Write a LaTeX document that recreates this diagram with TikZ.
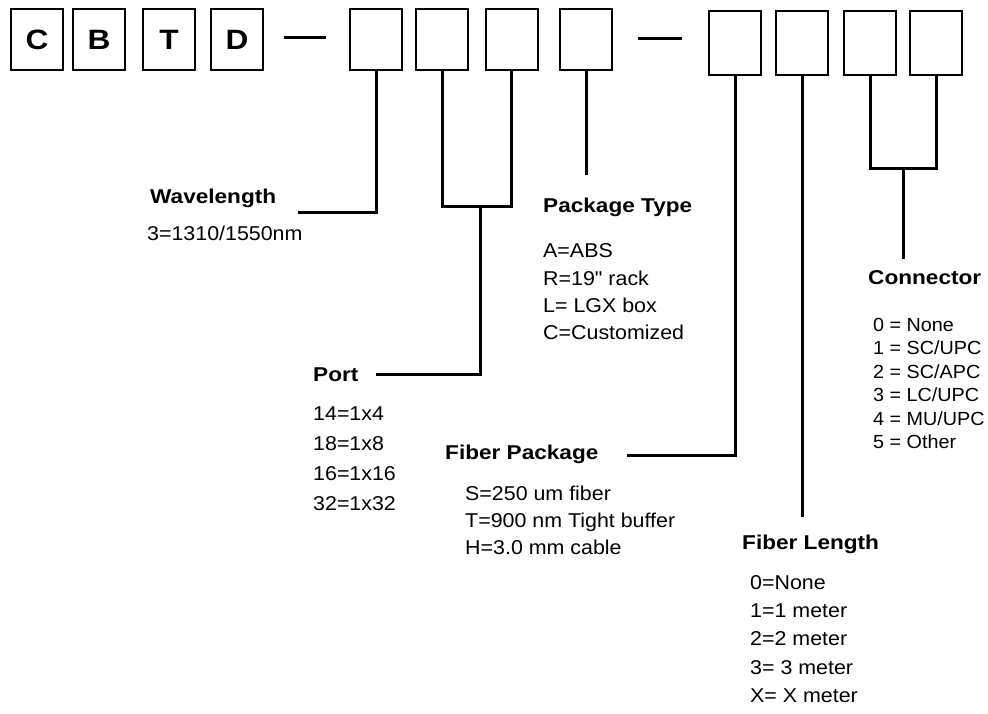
\documentclass[tikz,border=0pt]{standalone}
\usepackage{fontspec}
\setmainfont{Liberation Sans}[Ligatures=TeXOff,FakeStretch=1.07,BoldFeatures={FakeStretch=1.13}]
\newfontfamily\confont{Liberation Sans}[Ligatures=TeXOff,FakeStretch=1.04]
\begin{document}
\begin{tikzpicture}[x=1pt,y=-1pt,
  box/.style={draw,line width=2pt,minimum width=52pt,minimum height=61pt,inner sep=0pt,font=\fontsize{28}{30}\selectfont\bfseries},
  boxb/.style={box,minimum height=64pt},
  conn/.style={line width=3pt},
  dashline/.style={line width=3pt},
  txt/.style={anchor=west,inner sep=0pt,text height=14.3pt,text depth=0pt},
  hdr/.style={txt,font=\fontsize{20}{24}\selectfont\bfseries},
  itm/.style={txt,font=\fontsize{20}{24}\selectfont},
  citm/.style={txt,text height=13.6pt,font=\confont\fontsize{19}{22}\selectfont}]
\useasboundingbox[fill=white] (0,0) rectangle (988,714);
% code boxes
\node[box] (c) at (37,40) {C};
\node[box] (b) at (99,40) {B};
\node[box] (t) at (169,40) {T};
\node[box] (d) at (237,40) {D};
\coordinate (d1a) at (284,38); \coordinate (d1b) at (326,38);
\draw[dashline] (d1a) -- (d1b);
\node[box] (b5) at (376,40) {};
\node[box] (b6) at (442,40) {};
\node[box] (b7) at (511.5,40) {};
\node[box] (b8) at (586,40) {};
\coordinate (d2a) at (638,39); \coordinate (d2b) at (682,39);
\draw[dashline] (d2a) -- (d2b);
\node[boxb] (b9) at (735,43) {};
\node[boxb] (b10) at (802,43) {};
\node[boxb] (b11) at (870,43) {};
\node[boxb] (b12) at (936,43) {};
% leader lines
\coordinate (wlend) at (298,213);
\draw[conn] (b5.south) |- (wlend);
\coordinate (pj) at (480,207);
\coordinate (portend) at (376,374);
\draw[conn] (b6.south) |- (pj) -| (b7.south);
\draw[conn] (pj) |- (portend);
\coordinate (ptend) at (586,175);
\draw[conn] (b8.south) -- (ptend);
\coordinate (fpend) at (627,455);
\draw[conn] (b9.south) |- (fpend);
\coordinate (flend) at (802,517);
\draw[conn] (b10.south) -- (flend);
\coordinate (cj) at (903,169);
\coordinate (cend) at (903,259);
\draw[conn] (b11.south) |- (cj) -| (b12.south);
\draw[conn] (cj) -- (cend);
% Wavelength
\node[hdr] (wlh) at (150,196) {Wavelength};
\node[itm] (wl1) at (147,233) {3=1310/1550nm};
% Package type
\node[hdr] (pth) at (543,205) {Package Type};
\node[itm] (pt1) at (543,250) {A=ABS};
\node[itm] (pt2) at (543,278) {R=19" rack};
\node[itm] (pt3) at (543,305) {L= LGX box};
\node[itm] (pt4) at (543,332) {C=Customized};
% Port
\node[hdr] (poh) at (313,374) {Port};
\node[itm] (po1) at (313,413) {14=1x4};
\node[itm] (po2) at (313,443) {18=1x8};
\node[itm] (po3) at (313,473) {16=1x16};
\node[itm] (po4) at (313,503) {32=1x32};
% Fiber package
\node[hdr] (fph) at (445,452) {Fiber Package};
\node[itm] (fp1) at (465,493) {S=250 um fiber};
\node[itm] (fp2) at (465,520) {T=900 nm Tight buffer};
\node[itm] (fp3) at (465,547) {H=3.0 mm cable};
% Fiber length
\node[hdr] (flh) at (742,542) {Fiber Length};
\node[itm] (fl1) at (750,582) {0=None};
\node[itm] (fl2) at (750,610) {1=1 meter};
\node[itm] (fl3) at (750,638) {2=2 meter};
\node[itm] (fl4) at (750,667) {3= 3 meter};
\node[itm] (fl5) at (750,695) {X= X meter};
% Connector
\node[hdr] (coh) at (868,277) {Connector};
\node[citm] (co1) at (873,325) {0 = None};
\node[citm] (co2) at (873,348) {1 = SC/UPC};
\node[citm] (co3) at (873,372) {2 = SC/APC};
\node[citm] (co4) at (873,395) {3 = LC/UPC};
\node[citm] (co5) at (873,419) {4 = MU/UPC};
\node[citm] (co6) at (873,442) {5 = Other};
\end{tikzpicture}
\end{document}
